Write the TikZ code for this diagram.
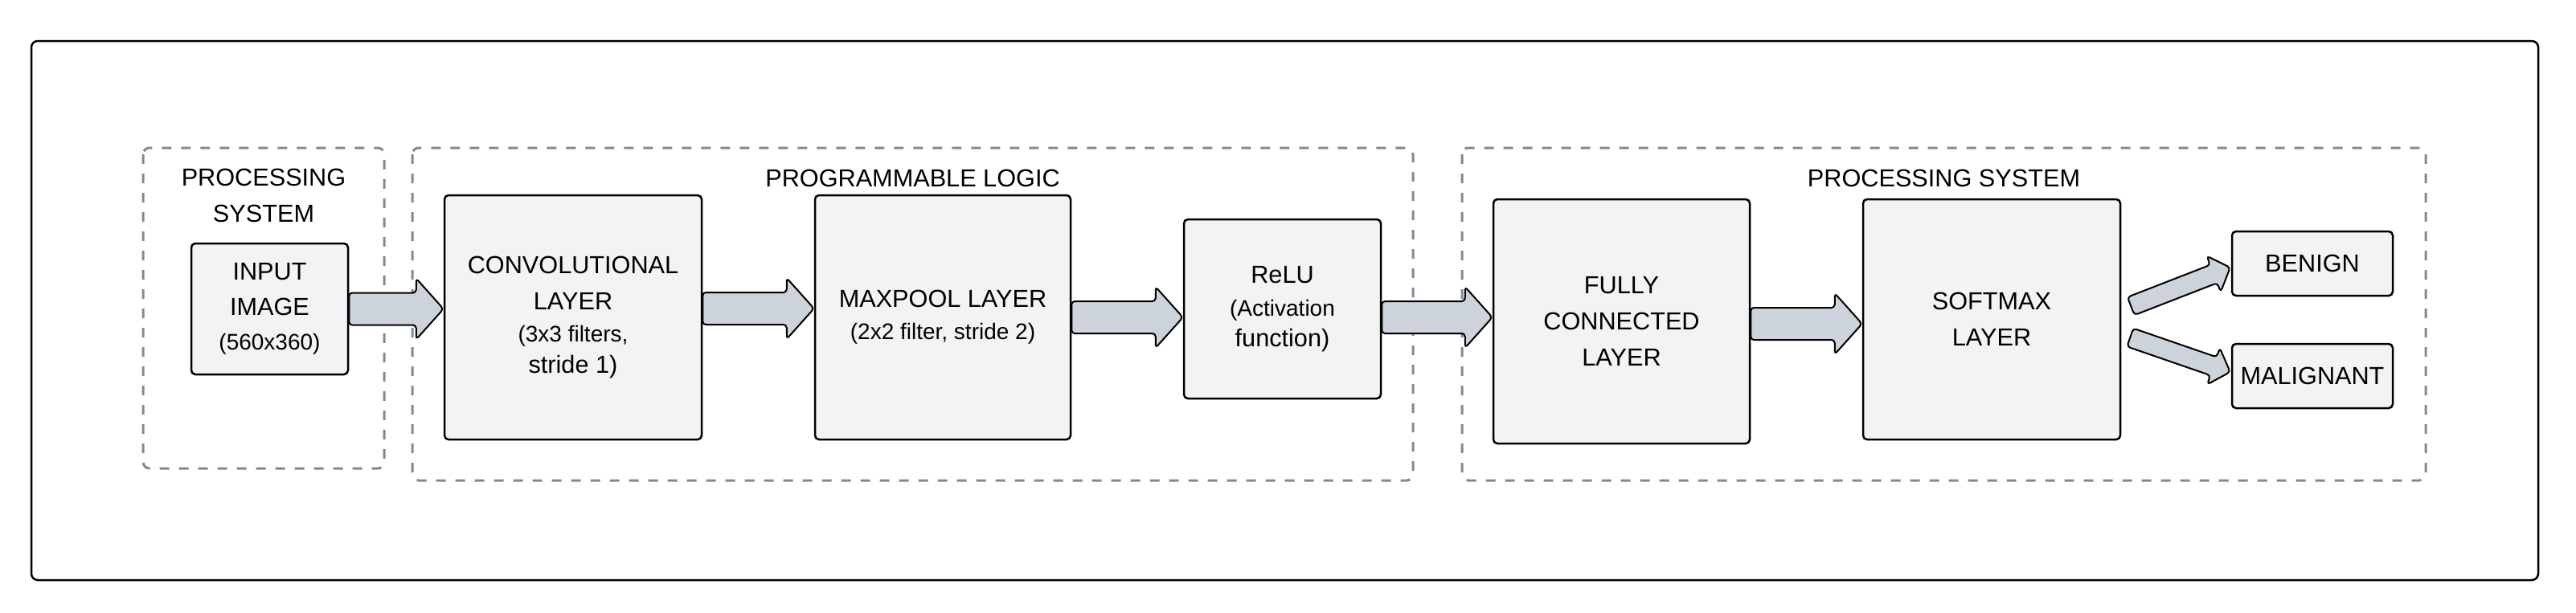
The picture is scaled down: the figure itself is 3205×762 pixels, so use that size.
\documentclass[tikz,border=0pt]{standalone}
\usepackage{fontspec}
\setmainfont{Liberation Sans}
\usetikzlibrary{calc}
\definecolor{boxfill}{RGB}{242,243,245}
\definecolor{arrfill}{RGB}{205,211,219}
\definecolor{dashc}{RGB}{128,137,152}
\newcommand\mainf{\fontsize{9.2pt}{13.5pt}\selectfont}
\newcommand\subf{\fontsize{8.4pt}{13.5pt}\selectfont}
% #1 tail, #2 tip, #3 shaft half width, #4 head half width, #5 head length
\newcommand\fatarrow[5]{%
  \coordinate (fa-A) at #1;
  \coordinate (fa-B) at #2;
  \coordinate (fa-H) at ($(fa-B)!#5!(fa-A)$);
  \draw[fatarr] ($(fa-A)!#3!90:(fa-B)$) -- ($(fa-H)!#3!90:(fa-B)$) -- ($(fa-H)!#4!90:(fa-B)$) -- (fa-B) -- ($(fa-H)!#4!-90:(fa-B)$) -- ($(fa-H)!#3!-90:(fa-B)$) -- ($(fa-A)!#3!-90:(fa-B)$) -- cycle;}
\begin{document}
\begin{tikzpicture}[x=0.3pt,y=-0.3pt,
  outerbox/.style={draw=black,line width=0.75pt,rounded corners=2.4pt},
  group/.style={draw=dashc,line width=0.9pt,dash pattern=on 3.6pt off 3.6pt,rounded corners=2.4pt},
  blk/.style={draw=black,fill=boxfill,line width=0.75pt,rounded corners=1.5pt,inner sep=0pt,align=center,font=\mainf},
  title/.style={inner sep=0pt,align=center,font=\mainf},
  fatarr/.style={draw=black,fill=arrfill,line width=0.6pt,rounded corners=1.2pt,line join=round}]
\useasboundingbox (0,0) rectangle (3205,762);
% outer frame and groups
\draw[outerbox] (39,51) rectangle (3158,722);
\draw[group] (178,184) rectangle (478,583);
\draw[group] (513,184) rectangle (1758,598);
\draw[group] (1819,184) rectangle (3018,598);
% group titles
\node[title] (t1) at (328,243.5) {PROCESSING\\SYSTEM};
\node[title] (t2) at (1135.5,222) {PROGRAMMABLE LOGIC};
\node[title] (t3) at (2418.5,222) {PROCESSING SYSTEM};
% blocks
\node[blk,minimum width=195*0.3pt,minimum height=163*0.3pt] (input) at (335.5,384.5)
  {INPUT\\[-0.3pt]IMAGE\\[-0.6pt]\subf (560x360)};
\node[blk,minimum width=320*0.3pt,minimum height=304*0.3pt] (conv) at (713,395)
  {CONVOLUTIONAL\\LAYER\\[-1.4pt]\subf (3x3 filters,\\[-1.8pt]stride 1)};
\node[blk,minimum width=318*0.3pt,minimum height=304*0.3pt] (maxp) at (1173,395)
  {MAXPOOL LAYER\\[-1.4pt]\subf (2x2 filter, stride 2)};
\node[blk,minimum width=245*0.3pt,minimum height=223*0.3pt] (relu) at (1595.5,384.5)
  {ReLU\\[-1.2pt]\subf (Activation\\[-2pt]function)};
\node[blk,minimum width=319*0.3pt,minimum height=304*0.3pt] (fc) at (2017.5,400)
  {FULLY\\CONNECTED\\LAYER};
\node[blk,minimum width=320*0.3pt,minimum height=299*0.3pt] (soft) at (2478,397.5)
  {SOFTMAX\\LAYER};
\node[blk,minimum width=200*0.3pt,minimum height=80*0.3pt] (benign) at (2877,328)
  {BENIGN};
\node[blk,minimum width=200*0.3pt,minimum height=80*0.3pt] (malig) at (2877,468)
  {MALIGNANT};
% connectors
\fatarrow{(input.east)}{(conv.west |- input.east)}{6pt}{11.4pt}{10.2pt}
\fatarrow{($(conv.east)+(0,-11)$)}{($(maxp.west)+(0,-11)$)}{6pt}{11.4pt}{10.2pt}
\fatarrow{(maxp.east)}{(relu.west |- maxp.east)}{6pt}{11.4pt}{10.2pt}
\fatarrow{($(relu.east)+(0,10.5)$)}{($(fc.west)+(0,-5)$)}{6pt}{11.4pt}{10.2pt}
\fatarrow{($(fc.east)+(0,3)$)}{($(soft.west)+(0,5.5)$)}{6pt}{11.4pt}{10.2pt}
\fatarrow{($(soft.east)+(12,-16.5)$)}{($(benign.west)+(-1,5)$)}{3.6pt}{7.2pt}{6.6pt}
\fatarrow{($(soft.east)+(11,22.5)$)}{($(malig.west)+(-1,-5)$)}{3.6pt}{7.2pt}{6.6pt}
\end{tikzpicture}
\end{document}
